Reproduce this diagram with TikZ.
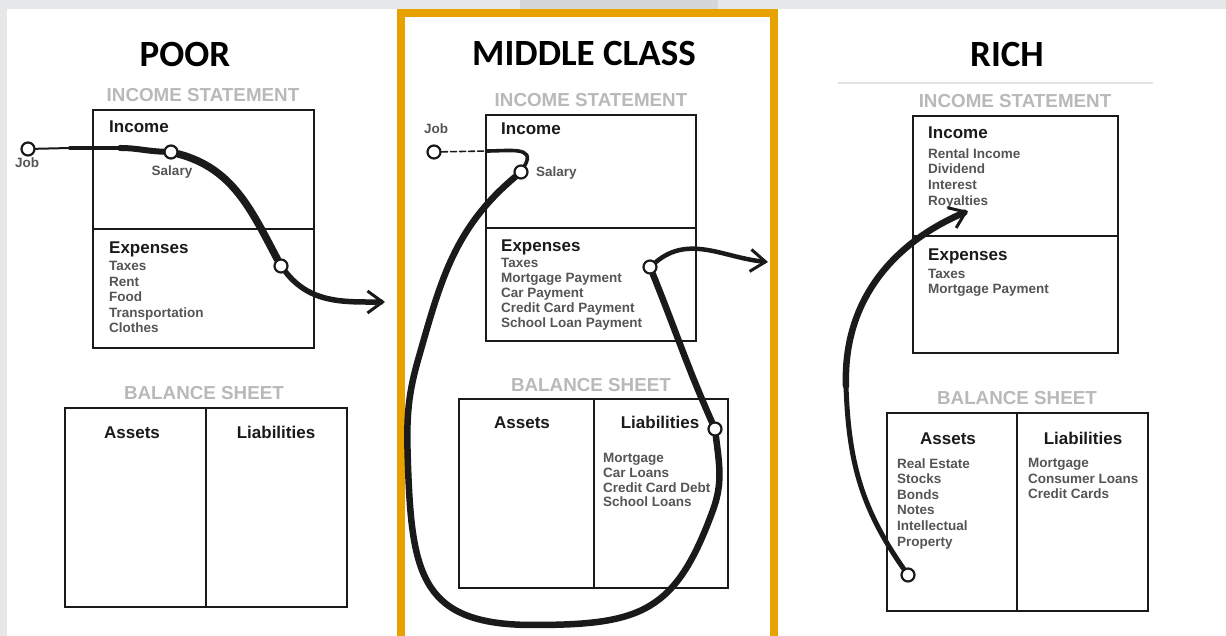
\documentclass[tikz,border=0pt]{standalone}
\usepackage{fontspec}
\setmainfont{Liberation Sans}
\newfontfamily\titlefont{Carlito}
\usetikzlibrary{arrows.meta}
\definecolor{bandgray}{HTML}{E6E7E8}
\definecolor{banddark}{HTML}{D5D6D7}
\definecolor{frameorange}{HTML}{E8A200}
\definecolor{headgray}{HTML}{B9B9B9}
\definecolor{itemgray}{HTML}{555555}
\definecolor{ink}{HTML}{1A1A1A}
\definecolor{rulegray}{HTML}{E2E2E2}
\pgfdeclarelayer{curves}
\pgfdeclarelayer{top}
\pgfsetlayers{main,curves,top}
\begin{document}
\begin{tikzpicture}[x=1pt,y=1pt,
  title/.style={font=\titlefont\bfseries\fontsize{37}{42}\selectfont, text=black, anchor=base, inner sep=0},
  sectionhead/.style={font=\bfseries\fontsize{18.8}{22}\selectfont, text=headgray, anchor=base, inner sep=0},
  boxlabel/.style={font=\bfseries\fontsize{17}{20}\selectfont, text=ink, inner sep=0},
  items/.style={font=\bfseries\fontsize{13.5}{15.4}\selectfont, text=itemgray, align=left, anchor=north west, inner sep=0},
  small/.style={font=\bfseries\fontsize{13.5}{15}\selectfont, text=itemgray, inner sep=0},
  panel/.style={draw=ink, line width=2.6pt},
  dot/.style={circle, draw=ink, fill=white, line width=2.2pt, minimum size=13pt, inner sep=0},
  brush/.style={draw=ink, line width=6.5pt, line cap=round},
  thinbrush/.style={draw=ink, line width=2pt, line cap=round},
  tip/.style={-{Straight Barb[length=15pt,width=22pt,line width=3pt]}},
]
\useasboundingbox (0,0) rectangle (1226,636);
% background
\fill[white] (0,0) rectangle (1226,636);
\fill[bandgray] (0,627) rectangle (1226,636);
\fill[banddark] (520,627) rectangle (718,636);
\fill[bandgray] (0,0) rectangle (7,636);
% orange frame
\draw[frameorange, line width=8pt] (401,-10) -- (401,623) -- (774,623) -- (774,-10);

% ================= POOR =================
\node[title] (ptitle) at (185,569.2) {POOR};
\node[sectionhead] (pis) at (203,534.2) {INCOME STATEMENT};
\draw[panel] (93,288) rectangle (314,526);
\draw[panel] (93,407) -- (314,407);
\node[boxlabel, anchor=base west] (pinc) at (109,503.9) {Income};
\node[boxlabel, anchor=base west] (pexh) at (109,382.9) {Expenses};
\node[items, font=\bfseries\fontsize{13.5}{15.5}\selectfont] (pexitems) at (109,374.8) {Taxes\\Rent\\Food\\Transportation\\Clothes};
\node[sectionhead] (pbs) at (204,236.2) {BALANCE SHEET};
\draw[panel] (65,29) rectangle (347,228);
\draw[panel] (206,29) -- (206,228);
\node[boxlabel, anchor=base] (pass) at (132,197.9) {Assets};
\node[boxlabel, anchor=base] (plia) at (276,197.9) {Liabilities};
\node[small, anchor=base] (pjoblab) at (27,468.3) {Job};
\node[small, anchor=base] (psallab) at (172,460.3) {Salary};

% ================= MIDDLE CLASS =================
\node[title] (mtitle) at (584,570.2) {MIDDLE CLASS};
\node[sectionhead] (mis) at (591,529.2) {INCOME STATEMENT};
\draw[panel] (486,295) rectangle (696,521);
\draw[panel] (486,408) -- (696,408);
\node[boxlabel, anchor=base west] (minc) at (501,501.9) {Income};
\node[boxlabel, anchor=base west] (mexh) at (501,384.9) {Expenses};
\node[items, font=\bfseries\fontsize{13.5}{15}\selectfont] (mexitems) at (501,377.8) {Taxes\\Mortgage Payment\\Car Payment\\Credit Card Payment\\School Loan Payment};
\node[sectionhead] (mbs) at (591,244.2) {BALANCE SHEET};
\draw[panel] (459,48) rectangle (728,237);
\draw[panel] (594,48) -- (594,237);
\node[boxlabel, anchor=base] (mass) at (522,207.9) {Assets};
\node[boxlabel, anchor=base] (mlialab) at (660,207.9) {Liabilities};
\node[items, font=\bfseries\fontsize{13.5}{14.7}\selectfont] (mliitems) at (603,182.8) {Mortgage\\Car Loans\\Credit Card Debt\\School Loans};
\node[small, anchor=base] (mjoblab) at (436,502.3) {Job};
\node[small, anchor=base west] (msallab) at (536,459.3) {Salary};

% ================= RICH =================
\node[title] (rtitle) at (1007,569.2) {RICH};
\draw[rulegray, line width=1.5pt] (838,553) -- (1153,553);
\node[sectionhead] (ris) at (1015,528.2) {INCOME STATEMENT};
\draw[panel] (913,283) rectangle (1118,520);
\draw[panel] (913,400) -- (1118,400);
\node[boxlabel, anchor=base west] (rinc) at (928,497.9) {Income};
\node[items, font=\bfseries\fontsize{13.5}{15.7}\selectfont] (rinitems) at (928,487.8) {Rental Income\\Dividend\\Interest\\Royalties};
\node[boxlabel, anchor=base west] (rexh) at (928,375.9) {Expenses};
\node[items, font=\bfseries\fontsize{13.5}{15}\selectfont] (rexitems) at (928,366.8) {Taxes\\Mortgage Payment};
\node[sectionhead] (rbs) at (1017,231.2) {BALANCE SHEET};
\draw[panel] (887,25) rectangle (1148,223);
\draw[panel] (1017,25) -- (1017,223);
\node[boxlabel, anchor=base] (rass) at (948,191.9) {Assets};
\node[boxlabel, anchor=base] (rlia) at (1083,191.9) {Liabilities};
\node[items, font=\bfseries\fontsize{13.5}{15.6}\selectfont] (rasitems) at (897,177.8) {Real Estate\\Stocks\\Bonds\\Notes\\Intellectual\\Property};
\node[items, font=\bfseries\fontsize{13.5}{15.5}\selectfont] (rliitems) at (1028,177.8) {Mortgage\\Consumer Loans\\Credit Cards};

% ================= dots =================
\begin{pgfonlayer}{top}
\node[dot] (pjob) at (28,487) {};
\node[dot] (psal) at (171,484) {};
\node[dot] (pexp) at (281,370) {};
\node[dot] (mjob) at (434,484) {};
\node[dot] (msal) at (521,464) {};
\node[dot] (mexp) at (650,369) {};
\node[dot] (mlia) at (715,207) {};
\node[dot] (rdot) at (908,61) {};
\end{pgfonlayer}
\coordinate (pj1) at (70,488);
\coordinate (pj2) at (120,488);
\coordinate (pend) at (385,334);
\coordinate (mj1) at (487,485);
\coordinate (m1) at (418,276);
\coordinate (m2) at (408,170);
\coordinate (m3) at (533,11);
\coordinate (m4) at (713,126);
\coordinate (mend) at (768,374);
\coordinate (r1) at (846,250);
\coordinate (rend) at (968,425);

% ================= curves =================
\begin{pgfonlayer}{curves}
% poor
\draw[thinbrush] (pjob) -- (pj1);
\draw[brush, line width=4pt] (pj1) -- (pj2);
\draw[brush, line width=6pt] (pj2) to[out=0,in=178] (psal);
\draw[brush, line width=7.5pt] (psal) to[out=-15,in=118] (pexp);
\draw[brush, line width=5.5pt, tip] (pexp) to[out=-52,in=180] (pend);
% middle
\draw[thinbrush, line width=1.6pt, dash pattern=on 6pt off 3pt] (mjob) -- (mj1);
\draw[brush, line width=3.6pt] (mj1) to[out=0,in=60,looseness=1.4] (msal);
\draw[brush] (msal) to[out=220,in=74] (m1) to[out=254,in=92] (m2)
  to[out=272,in=180,looseness=1.4] (m3) to[out=0,in=250,looseness=1.3] (m4)
  to[out=70,in=277] (mlia) to[out=114,in=292] (mexp);
\draw[brush, line width=4.5pt, tip] (mexp) to[out=40,in=175] (mend);
% rich
\draw[brush, line width=5pt] (rdot) to[out=125,in=272] (r1);
\draw[brush, tip] (r1) to[out=92,in=203] (rend);
\end{pgfonlayer}
\end{tikzpicture}
\end{document}
